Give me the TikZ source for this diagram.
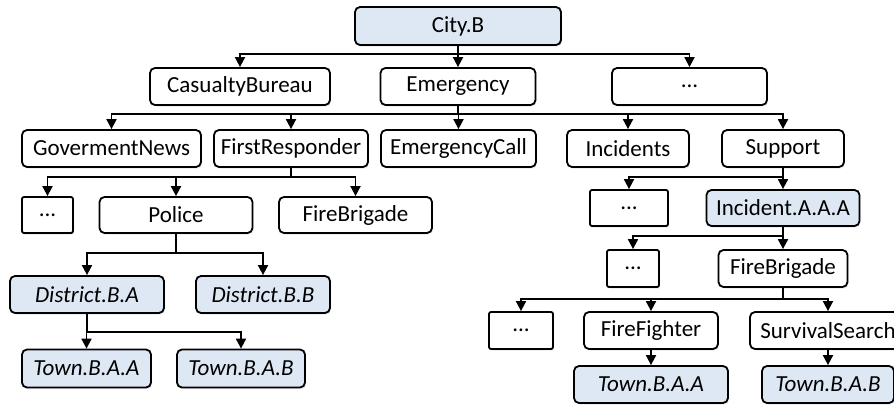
\documentclass[tikz,border=0pt]{standalone}
\usepackage{fontspec}
\setmainfont{Carlito}
\usetikzlibrary{arrows.meta,shadows}
\definecolor{boxblue}{RGB}{222,232,245}
\tikzset{
  every node/.style={font=\fontsize{23}{26}\selectfont},
  tbox/.style={draw=black, line width=1.8pt, rounded corners=5pt, fill=white,
    inner sep=0pt, align=center,
    drop shadow={opacity=0.12, shadow xshift=1.2pt, shadow yshift=-1.8pt}},
  dbox/.style={tbox, rounded corners=2pt},
  bbox/.style={tbox, fill=boxblue},
  conn/.style={draw=black, line width=1.8pt,
    -{Triangle[width=10pt,length=10pt]}},
}
\newcommand{\bx}[6]{\node[#1, minimum width=#4pt, minimum height=#5pt] (#2) at (#3) {#6};}
\begin{document}
\begin{tikzpicture}[x=1pt,y=-1pt]
\useasboundingbox (0,0) rectangle (894,405);

% level 0
\bx{bbox}{city}{458,26}{206}{38}{City.B}
% level 1
\bx{tbox}{cb}{240,86.5}{180}{37}{CasualtyBureau}
\bx{tbox}{em}{458,86.5}{155}{37}{Emergency}
\bx{tbox}{da}{689.5,86.5}{155}{37}{...}
% level 2
\bx{tbox}{gn}{111.5,148.5}{179}{37}{GovermentNews}
\bx{tbox}{fr}{291,148.5}{154}{37}{FirstResponder}
\bx{tbox}{ec}{458.5,148.5}{155}{37}{EmergencyCall}
\bx{tbox}{inc}{628,148.5}{122}{37}{Incidents}
\bx{tbox}{sup}{783,148.5}{122}{37}{Support}
% level 3
\bx{dbox}{db}{47.5,215}{51}{36}{...}
\bx{tbox}{pol}{176,215}{153}{36}{Police}
\bx{tbox}{fba}{355.5,215}{153}{36}{FireBrigade}
\bx{dbox}{dc}{629,208}{78}{36}{...}
\bx{bbox}{inca}{783,208}{153}{36}{Incident.A.A.A}
% level 4
\bx{bbox}{dba}{87,294.5}{154}{37}{\itshape District.B.A}
\bx{bbox}{dbb}{263,294.5}{134}{37}{\itshape District.B.B}
\bx{dbox}{dd}{633,268.5}{52}{37}{...}
\bx{tbox}{fbb}{783,268.5}{129}{37}{FireBrigade}
% level 5
\bx{bbox}{tbaa}{86.5,368.5}{129}{38}{\itshape Town.B.A.A}
\bx{bbox}{tbab}{241,368.5}{128}{38}{\itshape Town.B.A.B}
\bx{dbox}{de}{521,330.5}{64}{37}{...}
\bx{tbox}{ff}{651,330.5}{134}{37}{FireFighter}
\bx{tbox}{ss}{828,330.5}{156}{37}{SurvivalSearch}
% level 6
\bx{bbox}{tra}{651,384.5}{154}{37}{\itshape Town.B.A.A}
\bx{bbox}{trb}{828,384.5}{132}{37}{\itshape Town.B.A.B}

% bus heights
\coordinate (b1) at (0,54);
\coordinate (b2) at (0,114);
\coordinate (b3) at (0,177);
\coordinate (b4l) at (0,253);
\coordinate (b4r) at (0,236);
\coordinate (b5l) at (0,332);
\coordinate (b5r) at (0,299);

\foreach \c in {cb,em,da}
  \draw[conn] (city.south) -- (city.south |- b1) -| (\c.north);
\foreach \c in {gn,fr,ec,inc,sup}
  \draw[conn] (em.south) -- (em.south |- b2) -| (\c.north);
\foreach \c in {db,pol,fba}
  \draw[conn] (fr.south) -- (fr.south |- b3) -| (\c.north);
\foreach \c in {dc,inca}
  \draw[conn] (sup.south) -- (sup.south |- b3) -| (\c.north);
\foreach \c in {dba,dbb}
  \draw[conn] (pol.south) -- (pol.south |- b4l) -| (\c.north);
\foreach \c in {dd,fbb}
  \draw[conn] (inca.south) -- (inca.south |- b4r) -| (\c.north);
\foreach \c in {tbaa,tbab}
  \draw[conn] (dba.south) -- (dba.south |- b5l) -| (\c.north);
\foreach \c in {de,ff,ss}
  \draw[conn] (fbb.south) -- (fbb.south |- b5r) -| (\c.north);
\draw[conn] (ff.south) -- (tra.north);
\draw[conn] (ss.south) -- (trb.north);
\end{tikzpicture}
\end{document}
